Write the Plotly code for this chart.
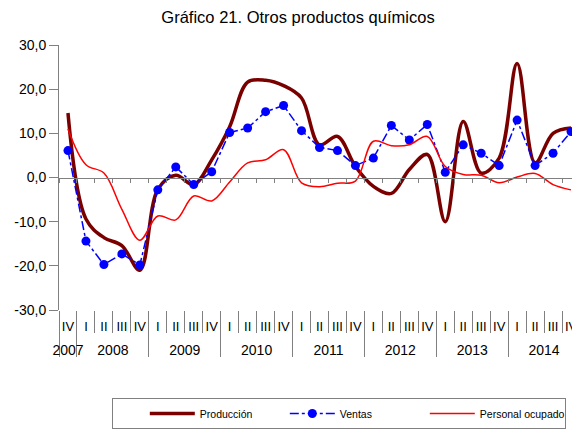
import plotly.graph_objects as go

years = ["2007", "2008", "2009", "2010", "2011", "2012", "2013", "2014"]
quarters = ["IV"] + ["I", "II", "III", "IV"] * 7

produccion = [14.6, -9.4, -13.6, -15.4, -21.0, -2.7, 0.5, -1.6, 4.0, 11.5,
              21.6, 22.0, 20.8, 18.0, 7.4, 9.3, 2.5, -2.0, -3.6, 1.8,
              5.2, -10.0, 12.7, 1.0, 4.4, 25.8, 3.3, 10.0, 11.2]
ventas = [6.1, -14.4, -19.7, -17.3, -19.8, -2.8, 2.4, -1.6, 1.3, 10.2,
          11.2, 14.9, 16.3, 10.6, 6.8, 6.1, 2.7, 4.4, 11.8, 8.5,
          12.0, 1.2, 7.4, 5.5, 2.7, 13.0, 2.7, 5.5, 10.4]
personal = [11.0, 2.9, 1.0, -7.2, -14.2, -8.7, -9.6, -4.2, -5.3, -1.0,
            3.3, 4.0, 6.3, -1.2, -2.1, -1.3, -0.8, 8.2, 7.2, 7.4,
            9.3, 2.5, 0.7, 0.5, -1.2, 0.1, 0.9, -1.6, -2.8]

y_ticks = [-30, -20, -10, 0, 10, 20, 30]
y_labels = ["-30,0", "-20,0", "-10,0", "0,0", "10,0", "20,0", "30,0"]

# quarter positions, category boundaries and year groups
idx = list(range(len(quarters)))
bounds = [i - 0.5 for i in range(len(quarters) + 1)]
year_of = [0] + [1 + (i - 1) // 4 for i in idx[1:]]
year_bounds = [bounds[0]] + [i - 0.5 for i in idx[1:] if year_of[i] != year_of[i - 1]] + [bounds[-1]]
year_mid = [sum(i for i in idx if year_of[i] == k) / year_of.count(k)
            for k in range(len(years))]

rng = [-0.5, 28.5]
grey = "#808080"
font = "Liberation Sans, Arial, sans-serif"

fig = go.Figure()
fig.add_trace(go.Scatter(x=idx, y=produccion, name="Producción", mode="lines",
                         line=dict(color="#7a0000", width=3.5, shape="spline")))
fig.add_trace(go.Scatter(x=idx, y=ventas, name="Ventas", mode="lines+markers",
                         line=dict(color="#0000ff", width=1.5, dash="dashdot"),
                         marker=dict(color="#0000ff", size=9)))
fig.add_trace(go.Scatter(x=idx, y=personal, name="Personal ocupado", mode="lines",
                         line=dict(color="#ff0000", width=1.5, shape="spline")))
# empty traces so the helper axes get drawn
for ax in ["x2", "x3", "x4", "x5"]:
    fig.add_trace(go.Scatter(x=[], y=[], xaxis=ax, yaxis="y", showlegend=False,
                             hoverinfo="skip"))

common = dict(range=rng, showgrid=False, zeroline=False)
fig.update_layout(
    width=572, height=421,
    margin=dict(l=51, r=0, t=37, b=117),
    paper_bgcolor="white", plot_bgcolor="white",
    font=dict(family=font, color="black", size=12),
    title=dict(text="Gráfico 21. Otros productos químicos", x=0.507, xanchor="center",
               y=0.979, yanchor="middle", font=dict(size=16.5)),
    showlegend=True,
    legend=dict(orientation="h", x=0.102, xanchor="left", y=-0.333, yanchor="top",
                bordercolor=grey, borderwidth=1, entrywidth=80, itemwidth=45,
                title=dict(text="      ", side="left"),
                font=dict(size=10.5)),
    # quarter labels
    xaxis=dict(tickvals=idx, ticktext=quarters, ticks="", showline=False,
               ticklabelstandoff=7, tickfont=dict(size=13), **common),
    # quarter separators
    xaxis2=dict(overlaying="x", anchor="y", side="bottom", tickvals=bounds,
                ticks="outside", ticklen=22, tickcolor=grey, showticklabels=False,
                **common),
    # year dividers
    xaxis3=dict(overlaying="x", anchor="y", side="bottom", tickvals=year_bounds,
                ticks="outside", ticklen=46, tickcolor=grey, showticklabels=False,
                **common),
    # year labels
    xaxis4=dict(overlaying="x", anchor="y", side="bottom", tickvals=year_mid,
                ticktext=years, ticks="", ticklabelstandoff=30,
                tickfont=dict(size=14), **common),
    # zero line with ticks
    xaxis5=dict(overlaying="x", anchor="free", position=0.5, tickvals=bounds,
                showline=True, linecolor=grey, ticks="outside", ticklen=4,
                tickcolor=grey, showticklabels=False, **common),
    yaxis=dict(range=[-30, 30], tickvals=y_ticks, ticktext=y_labels,
               showline=True, linecolor=grey, ticks="outside", ticklen=9,
               tickcolor=grey, showgrid=False, zeroline=False,
               tickfont=dict(size=14)),
)

fig.write_html("out.html")
